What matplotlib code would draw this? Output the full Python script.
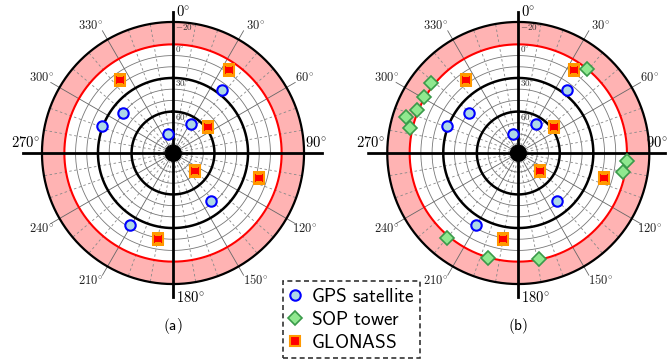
import numpy as np
import matplotlib
matplotlib.use("Agg")
import matplotlib.pyplot as plt
from matplotlib.lines import Line2D
from matplotlib.transforms import offset_copy

plt.rcParams['mathtext.fontset'] = 'cm'

# ---------------- data (azimuth deg, elevation deg) ----------------
gps_az = [37.7, 31.8, 344.4, 308.6, 290.7, 141.6, 210.6]
gps_el = [25.9, 66.6, 79.4, 40.2, 29.0, 42.0, 22.0]

glonass_az = [33.9, 324.2, 53.6, 129.8, 106.2, 190.1]
glonass_el = [7.7, 16.6, 57.9, 71.5, 17.0, 19.3]

sop_az = [39.3, 308.8, 300.8, 292.9, 287.9, 283.1, 94.0, 100.1, 220.0, 196.2, 169.0]
sop_el = [0.5, -3.1, -1.0, -1.5, -8.6, -2.3, -0.6, 1.7, -2.5, -0.9, 0.3]

az_labels = [30, 60, 120, 150, 210, 240, 300, 330]
cardinal_labels = [0, 90, 180, 270]
elev_labels = [-20, 0, 30, 60]
panel_labels = ['(a)', '(b)']
legend_labels = ['GPS satellite', 'SOP tower', 'GLONASS']

# ---------------- style ----------------
PINK = '#ffb3b3'
GPS_FACE, GPS_EDGE = '#add8e6', '#0000ff'
GLO_FACE, GLO_EDGE = '#ff0000', '#ff9900'
SOP_FACE, SOP_EDGE = '#8fe88f', '#3a9a4a'

W, H = 670, 360
fig = plt.figure(figsize=(W / 100, H / 100), dpi=100)

RORIG = -7.0
RMAX = 128.0
PXU = 1.12  # px per unit
rad_px = PXU * (RMAX - RORIG)


def zen(el):
    return 90.0 - np.asarray(el, dtype=float)


def make_panel(cx, cy, show_sop, label, east_dx, east_len):
    ax = fig.add_axes([(cx - rad_px) / W, (H - cy - rad_px) / H,
                       2 * rad_px / W, 2 * rad_px / H], projection='polar')
    ax.set_theta_zero_location('N')
    ax.set_theta_direction(-1)
    ax.set_rorigin(RORIG)
    ax.set_ylim(0, RMAX)
    ax.grid(False)
    ax.set_xticks([])
    ax.set_yticks([])
    ax.spines['polar'].set_visible(False)
    ax.patch.set_alpha(0)

    th = np.linspace(0, 2 * np.pi, 721)
    # pink band between horizon and -20 deg
    ax.fill_between(th, zen(0), zen(-20), color=PINK, lw=0, zorder=0)

    # thin rings
    for el in [80, 70, 50, 40, 20, 10]:
        ax.plot(th, np.full_like(th, zen(el)), color='#777777', lw=0.6, zorder=1)
    # dashed spokes every 10 deg
    for a in range(0, 360, 10):
        if a % 30 == 0:
            continue
        t = np.deg2rad(a)
        ax.plot([t, t], [0, zen(-20)], color='#888888', lw=0.6,
                dashes=(3, 3), zorder=1)
    # solid spokes every 30 deg
    for a in az_labels:
        t = np.deg2rad(a)
        ax.plot([t, t], [0, 119], color='#666666', lw=0.6, zorder=1)

    # thick rings
    for el in [30, 60]:
        ax.plot(th, np.full_like(th, zen(el)), color='black', lw=1.8, zorder=2)
    ax.plot(th, np.full_like(th, zen(0)), color='red', lw=1.5, zorder=2)
    ax.plot(th, np.full_like(th, zen(-20)), color='black', lw=1.6, zorder=2)

    # cross
    ax.plot([0, 0], [0, 119], color='black', lw=2.0, zorder=3)
    ax.plot([np.pi, np.pi], [0, 121.6], color='black', lw=2.0, zorder=3)
    ax.plot([np.pi / 2, np.pi / 2], [0, east_len], color='black', lw=2.0, zorder=3)
    ax.plot([1.5 * np.pi, 1.5 * np.pi], [0, 127], color='black', lw=2.0, zorder=3)

    # center dot
    ax.plot([0.5], [0.5], 'o', color='black', ms=11, transform=ax.transAxes,
            clip_on=False, zorder=6)

    # azimuth labels
    for a in az_labels:
        shift = 3 if a in (30, 210) else (-3 if a in (150, 330) else 0)
        ax.text(np.deg2rad(a + shift), 128.5, r'$%d^{\circ}$' % a, fontsize=9,
                ha='center', va='center', color='#222222')
    # cardinal labels
    tr_r = offset_copy(ax.transData, fig=fig, x=3, y=0, units='dots')
    tr_u = offset_copy(ax.transData, fig=fig, x=0, y=3, units='dots')
    tr_e90 = offset_copy(ax.transData, fig=fig, x=east_dx, y=3, units='dots')
    ax.text(0, 119, r'$\mathbf{0^{\circ}}$', fontsize=10.5, ha='left', va='center',
            transform=tr_r)
    ax.text(np.pi, 121.6, r'$\mathbf{180^{\circ}}$', fontsize=10.5, ha='left',
            va='center', transform=tr_r)
    ax.text(np.pi / 2, 123.5, r'$\mathbf{90^{\circ}}$', fontsize=10.5, ha='center',
            va='bottom', transform=tr_e90)
    ax.text(1.5 * np.pi, 124.5, r'$\mathbf{270^{\circ}}$', fontsize=10.5, ha='center',
            va='bottom', transform=tr_u)
    # elevation labels
    tr_e = offset_copy(ax.transData, fig=fig, x=2, y=-6, units='dots')
    for el in elev_labels:
        ax.text(0, zen(el), r'$%d^{\circ}$' % el, fontsize=6.5, ha='left',
                va='center', transform=tr_e, color='#333333')

    # markers
    ax.plot(np.deg2rad(gps_az), zen(gps_el), 'o', ms=7.5, mfc=GPS_FACE,
            mec=GPS_EDGE, mew=1.5, ls='none', zorder=5)
    ax.plot(np.deg2rad(glonass_az), zen(glonass_el), 's', ms=7.5, mfc=GLO_FACE,
            mec=GLO_EDGE, mew=1.5, ls='none', zorder=5)
    if show_sop:
        ax.plot(np.deg2rad(sop_az), zen(sop_el), 'D', ms=7.5, mfc=SOP_FACE,
                mec=SOP_EDGE, mew=1.2, ls='none', zorder=5)

    fig.text(cx / W, 1 - 326 / H, r'$\mathsf{%s}$' % label, fontsize=11,
             ha='center', va='center')
    return ax


make_panel(173, 153, False, panel_labels[0], -3, 126)
make_panel(518.3, 153, True, panel_labels[1], -8, 124)

handles = [
    Line2D([], [], marker='o', ms=7.5, mfc=GPS_FACE, mec=GPS_EDGE, mew=1.5, ls='none'),
    Line2D([], [], marker='D', ms=7.5, mfc=SOP_FACE, mec=SOP_EDGE, mew=1.2, ls='none'),
    Line2D([], [], marker='s', ms=7.5, mfc=GLO_FACE, mec=GLO_EDGE, mew=1.5, ls='none'),
]
labels = [r'$\mathsf{%s}$' % s.replace(' ', r'\ ') for s in legend_labels]
leg = fig.legend(handles, labels, loc='center', bbox_to_anchor=(351.5 / W, 1 - 319.5 / H),
                 fontsize=13.8, frameon=True, fancybox=False, handlelength=0.7,
                 handletextpad=0.45, borderpad=0.3, labelspacing=0.2,
                 borderaxespad=0)
fr = leg.get_frame()
fr.set_edgecolor('black')
fr.set_linewidth(1.2)
fr.set_linestyle((0, (3, 2)))

fig.savefig('out.png', dpi=100)
